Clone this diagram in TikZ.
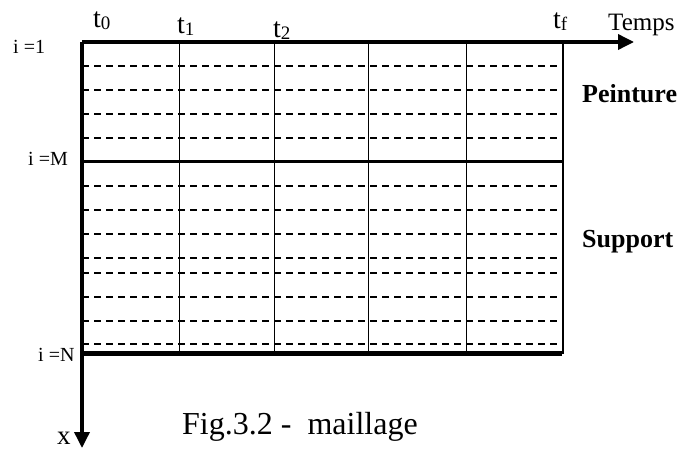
\documentclass[tikz,border=0pt]{standalone}
\usepackage{fontspec}
\setmainfont{Liberation Serif}
\usetikzlibrary{arrows.meta}

\newcommand{\tlab}[1]{t\raisebox{-2pt}{\fontsize{19}{19}\selectfont #1}}

\begin{document}
\begin{tikzpicture}[x=1pt, y=-1pt, >={Triangle[length=16pt,width=15pt]},
	lbl/.style={inner sep=0pt, anchor=base west},
	tlbl/.style={lbl, font=\fontsize{28}{28}\selectfont},
	ilbl/.style={lbl, font=\fontsize{20}{20}\selectfont},
	zone/.style={lbl, font=\fontsize{26}{26}\selectfont\bfseries},
	axe/.style={line width=3.5pt, ->},
	mesh/.style={line width=1.4pt, dash pattern=on 7pt off 5pt},
	pas/.style={line width=0.9pt}]
	\useasboundingbox (0,0) rectangle (679,450);

	% dashed space steps
	\foreach \y in {66,90,114,138,186,210,234,258,273,297,321,344}
		\draw[mesh] (82,\y) -- (563,\y);
	% time steps
	\foreach \x in {179,274,368,466}
		\draw[pas] (\x,42) -- (\x,353);
	\draw[line width=1.5pt] (563,42) -- (563,354);

	% interfaces
	\draw[line width=3pt] (82,161) -- (562,161);
	\draw[line width=5pt] (82,353) -- (562,353);

	% axes
	\coordinate (O) at (82,42);
	\coordinate (temps) at (634,42);
	\coordinate (prof) at (82,448);
	\draw[axe] (O) -- (temps);
	\draw[axe] (O) -- (prof);

	\node[tlbl] (t0) at (93,27)  {\tlab{0}};
	\node[tlbl] (t1) at (177,33) {\tlab{1}};
	\node[tlbl] (t2) at (273,37) {\tlab{2}};
	\node[tlbl] (tf) at (553,28) {\tlab{f}};
	\node[lbl, font=\fontsize{25}{25}\selectfont] (lt) at (608,30) {Temps};

	\node[ilbl] (i1) at (13,53)  {i =1};
	\node[ilbl] (iM) at (28,165) {i =M};
	\node[ilbl] (iN) at (38,361) {i =N};

	\node[zone] (pein) at (582,102) {Peinture};
	\node[zone] (supp) at (582,247) {Support};

	\node[lbl, font=\fontsize{27}{27}\selectfont] (lx) at (57,444) {x};
	\node[lbl, font=\fontsize{32}{32}\selectfont] (fig) at (182,434) {Fig.3.2 -\ \ maillage};
\end{tikzpicture}
\end{document}
